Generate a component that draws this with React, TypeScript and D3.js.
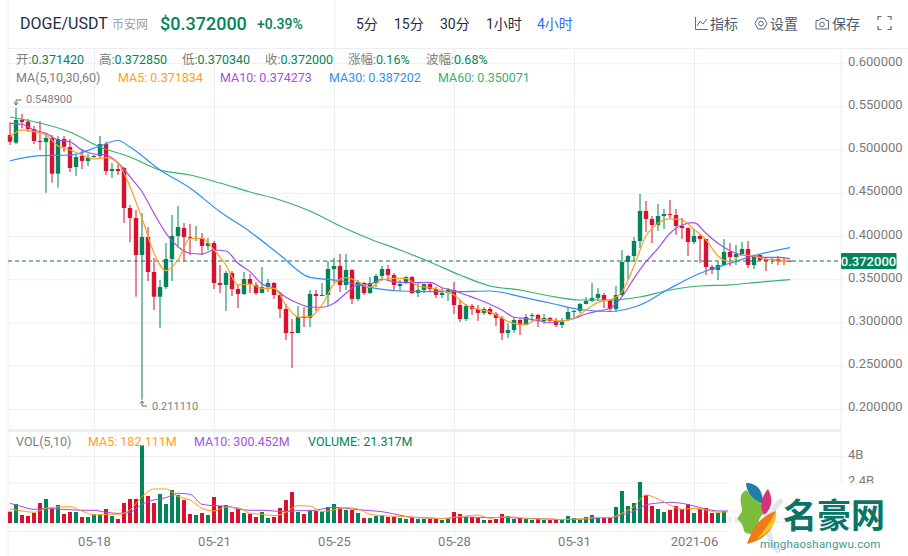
import { line, curveMonotoneX, scaleLinear } from "d3";
import type { ReactElement } from "react";

const opens = [
  .5175, .5086, .5348, .5329, .5244, .5105, .5094, .5140, .4727, .5129, .5036, .4804, .4932, .4874, .4920, .4932, .5071, .4758, .4781, .4793,
  .4330, .4214, .3786, .3994, .3589, .3303, .3415, .3740, .4006, .4098, .3994, .3971, .3983, .3890, .3925, .3462, .3439, .3578, .3392, .3335,
  .3508, .3439, .3346, .3415, .3462, .3323, .3161, .2895, .2883, .3068, .3057, .3335, .3311, .3323, .3624, .3659, .3439, .3612, .3277, .3462,
  .3346, .3462, .3543, .3624, .3554, .3427, .3462, .3531, .3346, .3381, .3450, .3392, .3323, .3346, .3381, .3207, .3045, .3196, .3161, .3115,
  .3161, .3103, .3057, .2883, .2918, .3034, .2976, .3080, .3092, .3022, .3057, .3022, .2976, .3045, .3126, .3138, .3219, .3254, .3288, .3323,
  .3265, .3161, .3323, .3705, .3774, .3948, .4295, .4203, .4133, .4237, .4260, .4249, .4122, .4098, .3936, .4006, .3971, .3647, .3612, .3670,
  .3821, .3763, .3797, .3855, .3670, .3786, .3740, .3728, .3740, .3728, .37142,
];
const closes = [
  .5097, .5348, .5325, .5244, .5105, .5094, .5140, .4727, .5129, .5039, .4793, .4920, .4874, .4912, .4932, .5071, .4758, .4781, .4758, .4330,
  .4214, .3786, .3994, .3589, .3303, .3415, .3740, .4006, .4110, .3994, .3983, .3983, .3890, .3925, .3462, .3439, .3578, .3392, .3335, .3508,
  .3450, .3346, .3415, .3462, .3323, .3161, .2883, .2883, .3068, .3057, .3335, .3311, .3323, .3624, .3659, .3439, .3612, .3277, .3473, .3346,
  .3462, .3543, .3624, .3554, .3439, .3450, .3531, .3346, .3381, .3450, .3392, .3323, .3346, .3381, .3207, .3045, .3196, .3161, .3115, .3161,
  .3103, .3057, .2883, .2918, .3034, .2976, .3068, .3092, .3022, .3057, .3022, .2976, .3011, .3126, .3138, .3219, .3254, .3288, .3335, .3265,
  .3161, .3323, .3705, .3774, .3948, .4295, .4203, .4133, .4237, .4260, .4249, .4122, .4098, .3936, .4006, .3971, .3647, .3612, .3670, .3821,
  .3763, .3797, .3855, .3670, .3786, .3728, .3716, .3740, .3716, .3716, .372,
];
const highs = [
  .5322, .5489, .5418, .5360, .5279, .5337, .5186, .5175, .5163, .5163, .5129, .4943, .5013, .4955, .4943, .5163, .5097, .4851, .4839, .4804,
  .4365, .4307, .4272, .4110, .3751, .3497, .3925, .4249, .4353, .4156, .4145, .4122, .4041, .3983, .3948, .3670, .3601, .3601, .3439, .3589,
  .3566, .3473, .3647, .3508, .3473, .3358, .3219, .3045, .3196, .3184, .3381, .3381, .3462, .3716, .3751, .3797, .3797, .3624, .3497, .3473,
  .3531, .3566, .3659, .3670, .3578, .3497, .3543, .3543, .3462, .3452, .3462, .3415, .3404, .3404, .3473, .3265, .3219, .3219, .3207, .3184,
  .3184, .3126, .3080, .2995, .3068, .3045, .3103, .3115, .3103, .3103, .3068, .3057, .3057, .3184, .3149, .3230, .3300, .3462, .3404, .3346,
  .3270, .3427, .3844, .3786, .3994, .4492, .4411, .4237, .4376, .4318, .4423, .4318, .4214, .4105, .4087, .4029, .3975, .3670, .3705, .3971,
  .3925, .3901, .3936, .3948, .3790, .3790, .3763, .3763, .3774, .3751, .37285,
];
const lows = [
  .5059, .5067, .5252, .5213, .5071, .5001, .4507, .4623, .4565, .4982, .4747, .4700, .4781, .4816, .4909, .4909, .4712, .4677, .4712, .4156,
  .3936, .3303, .2111, .3485, .3149, .2941, .3392, .3485, .3890, .3716, .3786, .3948, .3786, .3844, .3392, .3346, .3138, .3311, .3172, .3323,
  .3346, .3323, .3346, .3358, .3277, .3057, .2802, .2478, .2883, .2953, .2953, .3138, .3311, .3196, .3462, .3358, .3381, .3219, .3254, .3323,
  .3335, .3415, .3508, .3497, .3381, .3369, .3450, .3335, .3300, .3346, .3358, .3288, .3288, .3254, .3103, .3011, .3022, .3092, .3022, .3092,
  .3092, .2964, .2802, .2825, .2883, .2860, .2972, .3022, .2953, .2987, .3011, .2953, .2941, .3022, .3045, .3115, .3215, .3242, .3254, .3172,
  .3126, .3126, .3311, .3508, .3716, .3867, .4052, .3925, .4064, .4087, .4214, .4017, .3971, .3774, .3913, .3693, .3554, .3566, .3497, .3665,
  .3659, .3670, .3793, .3635, .3624, .3716, .3601, .3682, .3670, .3670, .37034,
];

const ma5 = [
  .5155, .5233, .5213, .5175, .5047, .5001, .4943, .4897, .4912, .4847, .4576, .4211, .3809, .3604, .3728, .3979, .3979, .3844, .3670, .3439,
  .3450, .3400, .3400, .3207, .3068, .3072, .3207, .3450, .3523, .3477, .3412, .3497, .3516, .3516, .3427, .3407, .3373, .3323, .3207, .3157,
  .3129, .3053, .2995, .2984, .3045, .3034, .3022, .3053, .3149, .3238, .3265, .3361, .3659, .4008, .4153, .4203, .4191, .4083, .3960, .3774,
  .3708, .3786, .3774, .3736, .3728, .3718,
];
const ma10 = [
  .5310, .5299, .5233, .5194, .5117, .5097, .5001, .4955, .4943, .4854, .4692, .4518, .4268, .4037, .3882, .3806, .3797, .3844, .3832, .3690,
  .3593, .3450, .3400, .3296, .3227, .3184, .3181, .3227, .3343, .3439, .3450, .3505, .3477, .3465, .3465, .3470, .3407, .3373, .3323, .3273,
  .3215, .3149, .3065, .3049, .3026, .3002, .3022, .3053, .3103, .3138, .3169, .3303, .3516, .3708, .3863, .4037, .4133, .4160, .4037, .3921,
  .3836, .3786, .3771, .3759, .3759, .3743,
];
const ma30Idx = [0, 5, 10, 15, 18, 20, 25, 30, 35, 40, 45, 50, 55, 60, 65, 70, 75, 80, 85, 90, 95, 100, 105, 110, 115, 120, 125, 130];
const ma30 = [
  .4877, .4937, .4943, .5047, .5111, .5036, .4770, .4561, .4287, .4056, .3786, .3526, .3488, .3412, .3369, .3361, .3363, .3369, .3305, .3230,
  .3155, .3132, .3207, .3400, .3574, .3690, .3797, .3872,
];
const ma60Idx = [0, 5, 10, 15, 20, 25, 30, 35, 40, 45, 50, 55, 60, 65, 70, 75, 80, 85, 90, 95, 100, 105, 110, 115, 120, 125, 130];
const ma60 = [
  .5383, .5314, .5209, .5036, .4920, .4770, .4712, .4619, .4515, .4423, .4295, .4122, .3971, .3844, .3705, .3554, .3427, .3381, .3311, .3265,
  .3265, .3300, .3381, .3427, .3439, .3473, .3501,
];

// volume in billions
const volumes = [
  .684, 1.147, .483, .423, .604, 1.207, 1.449, .845, 1.087, .543, .664, .664, .362, .362, .523, .483, .845, .423, .241, 1.207,
  1.449, 1.449, 4.668, 1.630, 1.207, 1.750, 1.147, 1.992, 1.690, 1.388, .543, .483, .604, .483, 1.569, 1.026, 1.087, .664, .845, .604,
  .543, .362, .664, .302, .362, .905, 1.388, 1.871, .664, .543, .724, .724, .664, .966, 1.147, .905, .785, .785, .604, .302,
  .302, .423, .483, .362, .362, .302, .241, .362, .241, .241, .241, .241, .181, .241, .664, .543, .362, .362, .302, .181,
  .181, .241, .543, .423, .241, .302, .241, .181, .241, .181, .181, .241, .181, .423, .302, .181, .362, .483, .302, .302,
  .302, .966, 1.932, 1.026, 1.207, 2.475, 1.690, 1.026, .845, .664, .785, 1.026, .845, 1.147, .604, .845, .905, .604, .604, .724,
  .362, .362, .28, .48, .38, .18, .18, .14, .12, .10, .0213,
];
const volMa5 = [
  .845, .724, .644, .885, .966, .986, .724, .483, .523, .523, .785, 1.590, 2.052, 2.052, 1.590, 1.388, .885, .724, .966, .926,
  .584, .523, .443, .644, 1.046, 1.026, .684, .785, .926, .845, .523, .443, .402, .382, .322, .302, .262, .342, .423, .483,
  .282, .362, .362, .262, .241, .241, .201, .241, .262, .342, .322, .584, .986, 1.690, 1.449, 1.087, .825, .885, .785, .644,
  .684, .483, .382, .302, .221, .182,
];
const volMa10 = [
  1.187, .986, .825, .885, .845, .805, .765, .765, .644, .584, .644, 1.127, 1.388, 1.529, 1.791, 1.730, 1.127, 1.046, 1.026, .845,
  .765, .765, .724, .684, .744, .744, .845, .946, .885, .805, .744, .684, .543, .402, .322, .302, .262, .322, .362, .342,
  .322, .342, .302, .282, .262, .241, .201, .221, .241, .302, .322, .483, .724, 1.087, 1.207, 1.247, 1.187, 1.026, .845, .724,
  .724, .644, .523, .443, .362, .302,
];

const priceTicks = [0.6, 0.55, 0.5, 0.45, 0.4, 0.35, 0.3, 0.25, 0.2];
const volTicks = [4, 2.4, 0.8];
const volTickLabels = ["4B", "2.4B", "0.8B"];
const dateTicks = [14, 34, 54, 74, 94, 114];
const dateLabels = ["05-18", "05-21", "05-25", "05-28", "05-31", "2021-06"];
const intervals = ["5分", "15分", "30分", "1小时", "4小时"];
const intervalX = [356, 394, 440, 486, 537];
const lastPrice = 0.372;

const GREEN = "#03845a";
const RED = "#d9102e";
const GRID = "#eceef5";
const C_MA5 = "#ff9f1a";
const C_MA10 = "#a64fe0";
const C_MA30 = "#2f8ff5";
const C_MA60 = "#36b36c";
const FONT = 'Roboto, "Noto Sans CJK SC", sans-serif';
const LEFT = 8;
const RIGHT = 841;

const x = scaleLinear().domain([0, 130]).range([10, 790]);
const y = scaleLinear().domain([0.2, 0.6]).range([409.3, 63.7]);
const yVol = scaleLinear().domain([0, 4]).range([523, 456.7]);

const everyOther = (v: number, i: number): [number, number] => [i * 2, v];
const priceLine = line<[number, number]>()
  .x((d) => x(d[0]))
  .y((d) => y(d[1]))
  .curve(curveMonotoneX);
const volLine = line<[number, number]>()
  .x((d) => x(d[0]))
  .y((d) => yVol(d[1]))
  .curve(curveMonotoneX);

const infoRow: ReadonlyArray<[string, string, number]> = [
  ["开:", "0.371420", 16],
  ["高:", "0.372850", 99],
  ["低:", "0.370340", 182],
  ["收:", "0.372000", 265],
  ["涨幅:", "0.16%", 348],
  ["波幅:", "0.68%", 426],
];

const Watermark = (): ReactElement => (
  <g>
    <rect x={728} y={483} width={180} height={73} fill="#fff" opacity={0.86} />
    <rect x={728} y={483} width={180} height={73} fill="url(#wmFade)" />
    <path d="M782 500 C768 510 762 540 780 552" fill="none" stroke="#dfe6ee" strokeWidth={5} />
    {/* head */}
    <path
      d="M746 490 C737 495 742 505 742 511 C740 516 737 517 738 520 C741 522 743 525 744 531 C746 535 755 534 760 533 C757 526 758 518 763 514 C766 503 755 499 746 490 Z"
      fill="#7cbd3f"
    />
    <path d="M746 483 C755 483 763 488 763 504 C753 500 746 492 746 483 Z" fill="#1f7fa8" />
    <path d="M768 489 C773 498 773 508 764 515 C759 507 761 497 768 489 Z" fill="#d8327c" />
    <path d="M776 511 C776 530 762 541 747 544 C752 529 760 516 776 511 Z" fill="#ee7a1c" />
    <path d="M776 511 C778 522 768 534 757 539 C765 530 771 521 776 511 Z" fill="#f2c81e" />
    <text x={783} y={528} fontFamily='"Noto Sans CJK SC", sans-serif' fontSize={34} fontWeight={700} fill="#0c7466">
      名豪网
    </text>
    <text x={760} y={548} fontFamily={FONT} fontSize={11.5} fill="#3c9c94" letterSpacing={0.2}>
      minghaoshangwu.com
    </text>
  </g>
);

export default function App(): ReactElement {
  return (
    <svg
      width={908}
      height={556}
      viewBox="0 0 908 556"
      style={{ position: "absolute", left: 0, top: 0, background: "#fff" }}
      fontFamily={FONT}
    >
      <defs>
        <linearGradient id="wmFade" x1="0" x2="0" y1="0" y2="1">
          <stop offset="0" stopColor="#fff" stopOpacity={0} />
          <stop offset="1" stopColor="#fff" stopOpacity={0.6} />
        </linearGradient>
      </defs>

      {/* frame and grid */}
      <line x1={LEFT} x2={LEFT} y1={0} y2={556} stroke={GRID} />
      <line x1={335} x2={335} y1={0} y2={48} stroke={GRID} />
      <line x1={LEFT} x2={908} y1={48.5} y2={48.5} stroke={GRID} />
      <line x1={RIGHT} x2={RIGHT} y1={48} y2={532} stroke={GRID} />
      <rect x={LEFT} y={429} width={833} height={3} fill={GRID} />
      <line x1={LEFT} x2={RIGHT} y1={531.5} y2={531.5} stroke={GRID} />
      {dateTicks.map((t) => (
        <g key={t}>
          <line x1={x(t) + 0.5} x2={x(t) + 0.5} y1={48} y2={429} stroke={GRID} />
          <line x1={x(t) + 0.5} x2={x(t) + 0.5} y1={432} y2={535} stroke={GRID} />
        </g>
      ))}
      {priceTicks.map((p) => (
        <g key={p}>
          <line x1={LEFT} x2={845} y1={y(p)} y2={y(p)} stroke={GRID} />
          <text x={848} y={y(p) + 2} fontSize={13} fill="#7a7a7a">
            {p.toFixed(6)}
          </text>
        </g>
      ))}
      {volTicks.map((v, i) => (
        <g key={v}>
          <line x1={LEFT} x2={845} y1={yVol(v)} y2={yVol(v)} stroke={GRID} />
          <text x={848} y={yVol(v) + 2} fontSize={13} fill="#7a7a7a">
            {volTickLabels[i]}
          </text>
        </g>
      ))}
      {dateTicks.map((t, i) => (
        <text key={t} x={x(t) + 0.5} y={546} fontSize={13} fill="#7a7a7a" textAnchor="middle">
          {dateLabels[i]}
        </text>
      ))}

      {/* toolbar */}
      <text x={20} y={29} fontSize={16} fill="#1f2d3d">DOGE/USDT</text>
      <text x={112} y={29} fontSize={12} fill="#9aa0a8">币安网</text>
      <text x={160} y={30} fontSize={18} fontWeight={500} fill={GREEN}>$0.372000</text>
      <text x={257} y={29} fontSize={14} fontWeight={500} fill={GREEN}>+0.39%</text>
      {intervals.map((s, i) => (
        <text key={s} x={intervalX[i]} y={29} fontSize={14} fill={i === 4 ? "#2f6ff0" : "#1f2d3d"}>
          {s}
        </text>
      ))}
      <g fill="none" stroke="#5b6b82" strokeWidth={1}>
        <path d="M695.5 17 V29.5 H708 M697 26 L700 21 L703 24 L707 19" />
        <path d="M755 23.5 L758 18 H764 L767 23.5 L764 29 H758 Z" />
        <circle cx={761} cy={23.5} r={2.3} />
        <path d="M816 20.5 H819 L820.5 18.5 H824.5 L826 20.5 H828.5 V29 H816 Z" />
        <circle cx={822} cy={24.5} r={2.3} />
        <path d="M878 20 V16.5 H881.5 M887.5 16.5 H891 V20 M878 26 V29.5 H881.5 M887.5 29.5 H891 V26" strokeWidth={1.2} />
      </g>
      <text x={710} y={29} fontSize={14} fill="#4a5a72">指标</text>
      <text x={770} y={29} fontSize={14} fill="#4a5a72">设置</text>
      <text x={832} y={29} fontSize={14} fill="#4a5a72">保存</text>

      {/* info rows */}
      {infoRow.map(([k, v, tx]) => (
        <text key={k} x={tx} y={64} fontSize={12.5}>
          <tspan fill="#808080">{k}</tspan>
          <tspan fill={GREEN}>{v}</tspan>
        </text>
      ))}
      <text x={16} y={82} fontSize={12.5} fill="#808080">MA(5,10,30,60)</text>
      <text x={118} y={82} fontSize={12.5} fill={C_MA5}>MA5: 0.371834</text>
      <text x={220} y={82} fontSize={12.5} fill={C_MA10}>MA10: 0.374273</text>
      <text x={329} y={82} fontSize={12.5} fill={C_MA30}>MA30: 0.387202</text>
      <text x={438} y={82} fontSize={12.5} fill={C_MA60}>MA60: 0.350071</text>

      {/* candles */}
      {opens.map((o, i) => {
        const c = closes[i];
        const up = c >= o;
        const color = up ? GREEN : RED;
        const top = y(Math.max(o, c));
        const h = Math.max(1, y(Math.min(o, c)) - top);
        return (
          <g key={i}>
            <line x1={x(i)} x2={x(i)} y1={y(highs[i])} y2={y(lows[i])} stroke={color} strokeWidth={2} opacity={0.5} />
            <rect x={x(i) - 2.2} y={top} width={4.4} height={h} fill={color} />
          </g>
        );
      })}

      {/* price line */}
      <line x1={LEFT} x2={RIGHT} y1={261} y2={261} stroke="#0d6f52" strokeWidth={1.2} strokeDasharray="4 3" />
      <rect x={841} y={253} width={55.5} height={16} rx={1} fill={GREEN} />
      <text x={868.5} y={265.5} fontSize={13} fontWeight={500} fill="#fff" textAnchor="middle">
        0.372000
      </text>

      {/* moving averages */}
      <g fill="none" strokeWidth={1.2}>
        <path d={priceLine(ma60.map((v, i): [number, number] => [ma60Idx[i], v])) ?? ""} stroke={C_MA60} />
        <path d={priceLine(ma30.map((v, i): [number, number] => [ma30Idx[i], v])) ?? ""} stroke={C_MA30} />
        <path d={priceLine(ma10.map(everyOther)) ?? ""} stroke={C_MA10} />
        <path d={priceLine(ma5.map(everyOther)) ?? ""} stroke={C_MA5} />
      </g>

      {/* high and low markers */}
      <g fill="none" stroke="#666" strokeWidth={1}>
        <path d="M21.5 100 H16 V105 M14 102.5 L16 105 L18 102.5" />
        <path d="M147 406 H142 V401 M140 403.5 L142 401 L144 403.5" />
      </g>
      <text x={26} y={103} fontSize={11} fill="#808080">0.548900</text>
      <text x={152} y={410} fontSize={11} fill="#808080">0.211110</text>

      {/* volume */}
      <text x={16} y={446} fontSize={12.5} fill="#808080">VOL(5,10)</text>
      <text x={88} y={446} fontSize={12.5} fill={C_MA5}>MA5: 182.111M</text>
      <text x={194} y={446} fontSize={12.5} fill={C_MA10}>MA10: 300.452M</text>
      <text x={308} y={446} fontSize={12.5} fill={GREEN}>VOLUME: 21.317M</text>
      {volumes.map((v, i) => (
        <rect
          key={i}
          x={x(i) - 2}
          y={yVol(v)}
          width={4}
          height={Math.max(1, yVol(0) - yVol(v))}
          fill={closes[i] >= opens[i] ? GREEN : RED}
        />
      ))}
      <g fill="none" strokeWidth={1}>
        <path d={volLine(volMa10.map(everyOther)) ?? ""} stroke={C_MA10} />
        <path d={volLine(volMa5.map(everyOther)) ?? ""} stroke={C_MA5} />
      </g>

      <Watermark />
    </svg>
  );
}
